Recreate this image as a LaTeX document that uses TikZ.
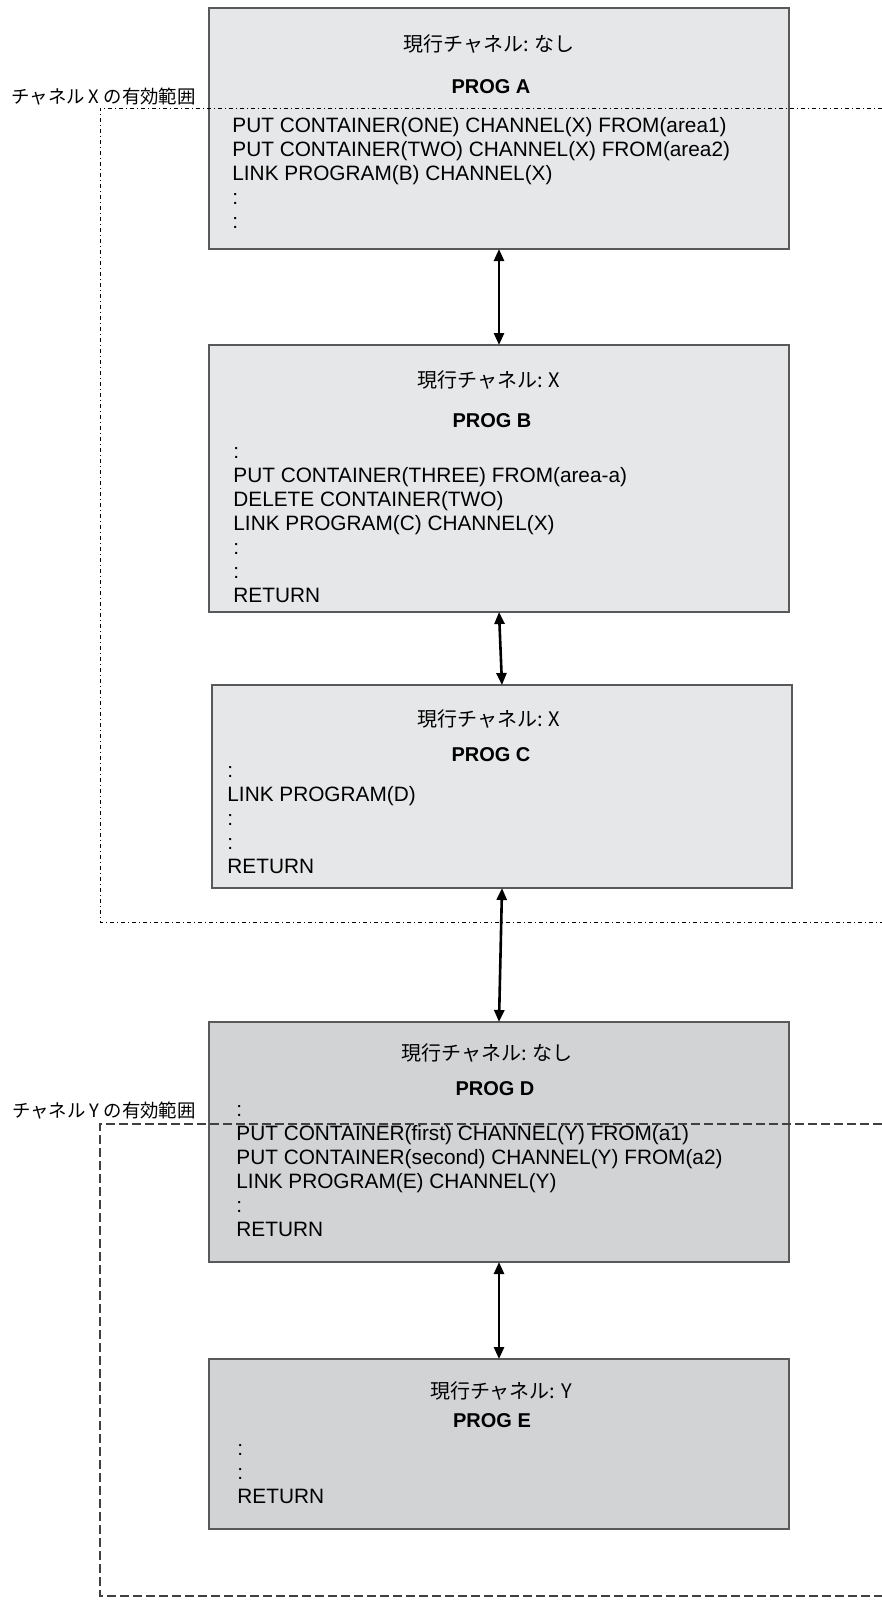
\documentclass[tikz,border=0pt]{standalone}
\usepackage{fontspec}
\setmainfont{Liberation Sans}
\newfontfamily\jpfont{Noto Sans CJK JP}
\usepackage{tikz}
\usetikzlibrary{calc,positioning,arrows.meta}
\definecolor{boxlight}{HTML}{E6E7E8}
\definecolor{boxdark}{HTML}{D1D3D4}
\definecolor{boxline}{HTML}{58595B}

\begin{document}
\begin{tikzpicture}[
  x=0.5pt, y=-0.5pt,
  boxstyle/.style={draw=boxline, line width=0.9pt, fill=boxlight, inner sep=0, outer sep=0, minimum width=290pt},
  darkboxstyle/.style={boxstyle, fill=boxdark},
  titlestyle/.style={inner sep=0, font=\jpfont\fontsize{10}{12}\selectfont},
  progstyle/.style={inner sep=0, font=\bfseries\fontsize{10}{12}\selectfont},
  codestyle/.style={inner sep=0, anchor=north west, align=left, font=\fontsize{10.4}{12}\selectfont},
  namestyle/.style={inner sep=0, anchor=east, font=\jpfont\fontsize{9.2}{11}\selectfont},
  pathstyle/.style={{Triangle[length=6pt,width=5pt]}-{Triangle[length=6pt,width=5pt]}, line width=1.3pt},
  scopexstyle/.style={line width=0.5pt, dash pattern=on 2pt off 1.5pt on 0.5pt off 1.5pt},
  scopeystyle/.style={line width=0.7pt, draw=black!75, dash pattern=on 4.5pt off 2pt}
]
  \useasboundingbox (0,0) rectangle (882,1606);

  \node[boxstyle, minimum height=120.5pt] (A) at (499,128.5)
    {};
  \node[boxstyle, minimum height=133.5pt, below=48pt of A] (B)
    {};
  \node[boxstyle, minimum height=101.5pt, below=36.5pt of B, xshift=1.5pt] (C)
    {};
  \node[darkboxstyle, minimum height=120pt, below=67pt of C, xshift=-1.5pt] (D)
    {};
  \node[darkboxstyle, minimum height=85pt, below=48.5pt of D] (E)
    {};

  \node[titlestyle] (ATITLE) at ($(A.north)+(-10,36)$)
    {現行チャネル: なし};
  \node[progstyle] (APROG) at ($(A.north)+(-8,79)$)
    {PROG A};
  \node[codestyle] (ACODE) at ($(A.north west)+(23,107)$)
    {\strut PUT CONTAINER(ONE) CHANNEL(X) FROM(area1)\\
     PUT CONTAINER(TWO) CHANNEL(X) FROM(area2)\\
     LINK PROGRAM(B) CHANNEL(X)\\ :\\ :};

  \node[titlestyle] (BTITLE) at ($(B.north)+(-10,35)$)
    {現行チャネル: X};
  \node[progstyle] (BPROG) at ($(B.north)+(-7,76)$)
    {PROG B};
  \node[codestyle] (BCODE) at ($(B.north west)+(24,96)$)
    {\strut :\\ PUT CONTAINER(THREE) FROM(area-a)\\
     DELETE CONTAINER(TWO)\\
     LINK PROGRAM(C) CHANNEL(X)\\ :\\ :\\ RETURN};

  \node[titlestyle] (CTITLE) at ($(C.north)+(-13,34)$)
    {現行チャネル: X};
  \node[progstyle] (CPROG) at ($(C.north)+(-11,70)$)
    {PROG C};
  \node[codestyle] (CCODE) at ($(C.north west)+(15,75)$)
    {\strut :\\ LINK PROGRAM(D)\\ :\\ :\\ RETURN};

  \node[titlestyle] (DTITLE) at ($(D.north)+(-12,31)$)
    {現行チャネル: なし};
  \node[progstyle] (DPROG) at ($(D.north)+(-4,67)$)
    {PROG D};
  \node[codestyle] (DCODE) at ($(D.north west)+(27,77)$)
    {\strut :\\ PUT CONTAINER(first) CHANNEL(Y) FROM(a1)\\
     PUT CONTAINER(second) CHANNEL(Y) FROM(a2)\\
     LINK PROGRAM(E) CHANNEL(Y)\\ :\\ RETURN};

  \node[titlestyle] (ETITLE) at ($(E.north)+(2,32)$)
    {現行チャネル: Y};
  \node[progstyle] (EPROG) at ($(E.north)+(-7,62)$)
    {PROG E};
  \node[codestyle] (ECODE) at ($(E.north west)+(28,79)$)
    {\strut :\\ :\\ RETURN};

  \node[namestyle] (XNAME) at (196,97)
    {チャネル X の有効範囲};
  \node[namestyle] (YNAME) at (196,1111)
    {チャネル Y の有効範囲};

  \coordinate (XTL) at (100,108);
  \coordinate (XTR) at (882,108);
  \coordinate (XBL) at (100,922);
  \coordinate (XBR) at (882,922);
  \coordinate (YTL) at (100,1124);
  \coordinate (YTR) at (882,1124);
  \coordinate (YBL) at (100,1596);
  \coordinate (YBR) at (882,1596);

  \draw[scopexstyle] (XTR) -- (XTL) -- (XBL) -- (XBR);
  \draw[scopeystyle] (YTR) -- (YTL) -- (YBL) -- (YBR);

  \draw[pathstyle] (A.south) -- (B.north);
  \draw[pathstyle] (B.south) -- (C.north);
  \draw[pathstyle] (C.south) -- (D.north);
  \draw[pathstyle] (D.south) -- (E.north);
\end{tikzpicture}
\end{document}
